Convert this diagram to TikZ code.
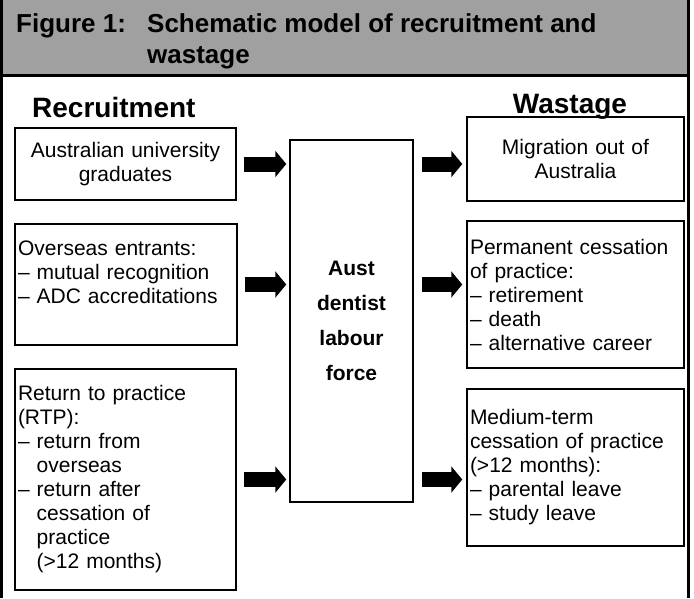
\documentclass[tikz,border=0pt]{standalone}
\usepackage{fontspec}
\setmainfont{Liberation Sans}
\usetikzlibrary{positioning}
\usetikzlibrary{arrows.meta}
\definecolor{headGray}{RGB}{160,160,160}

\begin{document}
\begin{tikzpicture}[x = 1pt, y = -1pt]
	\tikzstyle{titleStyle} = [anchor = base west, inner sep = 0pt, font = \fontsize{26}{31}\selectfont\bfseries]
	\tikzstyle{headingStyle} = [inner sep = 0pt, font = \fontsize{28}{32}\selectfont\bfseries]
	\tikzstyle{boxStyle} = [draw, line width = 1.5pt, inner xsep = 3pt, inner ysep = 0pt, font = \fontsize{21}{24}\selectfont]
	\tikzstyle{centreStyle} = [draw, line width = 1.5pt, inner sep = 0pt, align = center, font = \fontsize{21}{35}\selectfont\bfseries]
	\tikzstyle{flowArrow} = [line width = 15pt, -{Triangle[length = 11pt, width = 26pt]}]
	\useasboundingbox (0, 0) rectangle (694, 598);
	% header band and frame
	\fill[headGray] (3, 0) rectangle (687, 75);
	\draw[line width = 3pt] (0, 75) -- (690, 75);
	\draw[line width = 3pt] (1.5, 0) -- (1.5, 598);
	\draw[line width = 3pt] (688.5, 0) -- (688.5, 598);
	\node[titleStyle] (figNum) at (16, 32) {Figure 1:};
	\node[titleStyle] (figTitle) at (147, 32) {Schematic model of recruitment and};
	\node[titleStyle] (figTitleB) at (147, 63) {wastage};
	\node[headingStyle, anchor = base west] (recruit) at (32, 117) {Recruitment};
	\node[headingStyle, anchor = base] (wastage) at (570, 113) {Wastage};
	% recruitment
	\node[boxStyle, text width = 215pt, minimum height = 72pt, align = center] (gradBox) at (125.5, 164) {Australian university\\graduates};
	\node[boxStyle, text width = 216pt, minimum height = 121pt, align = left] (overseasBox) at (126, 284.5) {Overseas entrants:\\-- mutual recognition\\-- ADC accreditations\\\mbox{}};
	\node[boxStyle, text width = 215pt, minimum height = 221pt, align = left] (rtpBox) at (125.5, 479.5) {Return to practice\\(RTP):\\-- return from\\\hphantom{-- }overseas\\-- return after\\\hphantom{-- }cessation of\\\hphantom{-- }practice\\\hphantom{-- }(>12 months)};
	% labour force
	\node[centreStyle, minimum width = 123pt, minimum height = 362pt] (forceBox) at (351.5, 321) {Aust\\dentist\\labour\\force};
	% wastage
	\node[boxStyle, text width = 211pt, minimum height = 84pt, align = center] (migBox) at (575.5, 159) {Migration out of\\Australia};
	\node[boxStyle, text width = 211pt, minimum height = 147pt, align = left] (permBox) at (575.5, 294.5) {Permanent cessation\\of practice:\\-- retirement\\-- death\\-- alternative career};
	\node[boxStyle, text width = 211pt, minimum height = 157pt, align = left] (medBox) at (575.5, 467.5) {Medium-term\\cessation of practice\\(>12 months):\\-- parental leave\\-- study leave};
	% flows
	\draw[flowArrow] ([xshift = 7pt]gradBox.east) -- ([xshift = -3pt]gradBox.east -| forceBox.west);
	\draw[flowArrow] ([xshift = 7pt]overseasBox.east) -- ([xshift = -3pt]overseasBox.east -| forceBox.west);
	\draw[flowArrow] ([xshift = 7pt]rtpBox.east) -- ([xshift = -3pt]rtpBox.east -| forceBox.west);
	\draw[flowArrow] ([xshift = 8pt]forceBox.east |- gradBox.east) -- ([xshift = -4pt]migBox.west |- gradBox.east);
	\draw[flowArrow] ([xshift = 8pt]forceBox.east |- overseasBox.east) -- ([xshift = -4pt]permBox.west |- overseasBox.east);
	\draw[flowArrow] ([xshift = 8pt]forceBox.east |- rtpBox.east) -- ([xshift = -4pt]medBox.west |- rtpBox.east);
\end{tikzpicture}
\end{document}
